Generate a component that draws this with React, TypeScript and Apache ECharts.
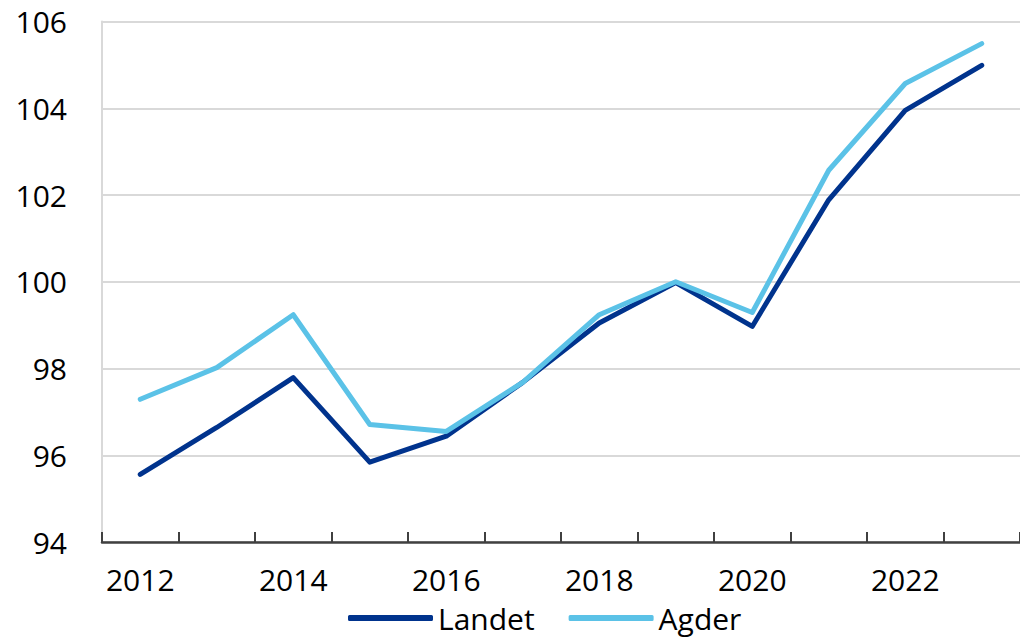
import React, { useEffect, useRef } from "react";
import * as echarts from "echarts";

const years = ["2012", "2013", "2014", "2015", "2016", "2017", "2018", "2019", "2020", "2021", "2022", "2023"];
const landet = [95.56, 96.64, 97.79, 95.84, 96.44, 97.68, 99.05, 99.98, 98.97, 101.89, 103.95, 104.99];
const agder = [97.29, 98.02, 99.24, 96.71, 96.55, 97.68, 99.24, 100.0, 99.29, 102.57, 104.57, 105.49];
const yTicks = { min: 94, max: 106, interval: 2 };

const FONT = "'Open Sans', 'Noto Sans', sans-serif";

export default function App() {
  const ref = useRef<HTMLDivElement>(null);
  useEffect(() => {
    if (!ref.current) return;
    const chart = echarts.init(ref.current, undefined, { renderer: "svg" });
    chart.setOption({
      animation: false,
      backgroundColor: "#ffffff",
      grid: { left: 102, right: -6, top: 21.5, bottom: 95, containLabel: false },
      legend: {
        left: 343,
        top: 597,
        itemWidth: 85,
        itemHeight: 6,
        itemGap: 34,
        icon: "roundRect",
        textStyle: { fontFamily: FONT, fontSize: 30, lineHeight: 32, color: "#000" },
        data: ["Landet", "Agder"],
      },
      xAxis: {
        type: "category",
        data: years,
        boundaryGap: true,
        axisLine: { show: true, lineStyle: { color: "#404040", width: 2.5 } },
        axisTick: { show: true, inside: true, length: 10, interval: 0, lineStyle: { color: "#404040", width: 2 } },
        axisLabel: { interval: 1, fontFamily: FONT, fontSize: 30, color: "#000", margin: 22 },
        splitLine: { show: false },
      },
      yAxis: {
        type: "value",
        min: yTicks.min,
        max: yTicks.max,
        interval: yTicks.interval,
        axisLine: { show: true, lineStyle: { color: "#d9d9d9", width: 2 } },
        axisTick: { show: false },
        axisLabel: { fontFamily: FONT, fontSize: 30, color: "#000", margin: 35 },
        splitLine: { show: true, lineStyle: { color: "#d9d9d9", width: 2 } },
      },
      series: [
        {
          name: "Landet",
          type: "line",
          data: landet,
          showSymbol: false,
          symbol: "none",
          lineStyle: { color: "#00338d", width: 5, cap: "round", join: "round" },
          itemStyle: { color: "#00338d" },
        },
        {
          name: "Agder",
          type: "line",
          data: agder,
          showSymbol: false,
          symbol: "none",
          lineStyle: { color: "#5bc2e7", width: 5, cap: "round", join: "round" },
          itemStyle: { color: "#5bc2e7" },
        },
      ],
    });
    return () => chart.dispose();
  }, []);
  return (
    <div
      ref={ref}
      style={{ position: "absolute", left: 0, top: 0, width: 1020, height: 637 }}
    />
  );
}
